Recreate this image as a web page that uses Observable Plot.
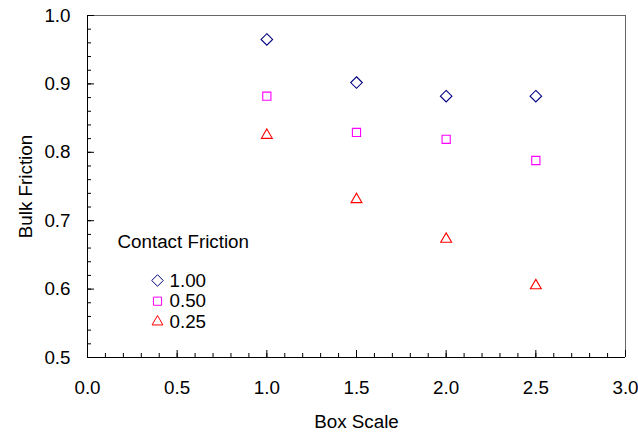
<!DOCTYPE html>
<html><head><meta charset="utf-8">
<script src="https://cdn.jsdelivr.net/npm/d3@7"></script>
<script src="https://cdn.jsdelivr.net/npm/@observablehq/plot@0.6"></script>
<style>body{margin:0;background:#fff}</style>
</head><body><div id="chart"></div>
<script>
// ---- data ----
const boxScale = [1.0, 1.5, 2.0, 2.5];
const bulk100 = [0.965, 0.902, 0.882, 0.882];
const bulk050 = [0.882, 0.829, 0.819, 0.788];
const bulk025 = [0.825, 0.731, 0.673, 0.605];
const seriesNames = ["1.00", "0.50", "0.25"];
const seriesSymbols = ["diamond2", "square2", "triangle2"];
const seriesColors = ["#000080", "#FF00FF", "#FF0000"];
const xTicks = [0.0, 0.5, 1.0, 1.5, 2.0, 2.5, 3.0];
const yTicks = [0.5, 0.6, 0.7, 0.8, 0.9, 1.0];
const xLabel = "Box Scale";
const yLabel = "Bulk Friction";
const legendTitle = "Contact Friction";

const seriesValues = [bulk100, bulk050, bulk025];
const rows = seriesNames.flatMap((s, i) => boxScale.map((x, j) => ({series: s, x, y: seriesValues[i][j]})));
const xMinor = d3.range(0, 3.0001, 0.1).map(v => +v.toFixed(2));
const yMinor = d3.range(0.5, 1.0001, 0.02).map(v => +v.toFixed(2));

const W = 638, H = 432, mL = 87, mR = 13, mT = 15, mB = 75;
const iW = W - mL - mR, iH = H - mT - mB;
const FS = 18.8;
const R = 5.2;

const legendRowDy = [265, 285.7, 306.3];
const legendMarks = seriesNames.flatMap((s, i) => [
  Plot.dot([s], {frameAnchor: "top-left", dx: 70, dy: legendRowDy[i], symbol: seriesSymbols[i], stroke: seriesColors[i], r: R, strokeWidth: 1}),
  Plot.text([s], {frameAnchor: "top-left", dx: 82, dy: legendRowDy[i], textAnchor: "start", lineAnchor: "middle", fontSize: FS, fill: "#000"})
]);

const chart = Plot.plot({
  width: W, height: H,
  marginLeft: mL, marginRight: mR, marginTop: mT, marginBottom: mB,
  style: {fontFamily: "'Liberation Sans', Arial, sans-serif", fontSize: FS + "px", color: "#000", background: "#fff"},
  x: {domain: [0, 3], ticks: xTicks, tickSize: 0, tickPadding: 23, tickFormat: d3.format(".1f"), label: null},
  y: {domain: [0.5, 1.0], ticks: yTicks, tickSize: 0, tickPadding: 17, tickFormat: d3.format(".1f"), label: null},
  symbol: {domain: seriesNames, range: seriesSymbols},
  color: {domain: seriesNames, range: seriesColors},
  marks: [
    Plot.ruleY([1.0], {stroke: "#666"}),
    Plot.ruleX([3.0], {stroke: "#666"}),
    Plot.ruleX(xMinor, {x: d => d, insetTop: iH - 4, stroke: "#000"}),
    Plot.ruleX(xTicks, {x: d => d, insetTop: iH - 7, stroke: "#000"}),
    Plot.ruleY(yMinor, {y: d => d, insetRight: iW - 4, stroke: "#000"}),
    Plot.ruleY(yTicks, {y: d => d, insetRight: iW - 7, stroke: "#000"}),
    Plot.ruleX([0], {stroke: "#000"}),
    Plot.ruleY([0.5], {stroke: "#000"}),
    Plot.dot(rows, {x: "x", y: "y", symbol: "series", stroke: "series", r: R, strokeWidth: 1.1}),
    Plot.text([legendTitle], {frameAnchor: "top-left", dx: 30, dy: 226, textAnchor: "start", lineAnchor: "middle", fontSize: FS, fill: "#000"}),
    ...legendMarks,
    Plot.text([xLabel], {frameAnchor: "bottom", dy: 64, lineAnchor: "middle", textAnchor: "middle", fontSize: FS, fill: "#000"}),
    Plot.text([yLabel], {frameAnchor: "left", dx: -62, rotate: -90, textAnchor: "middle", lineAnchor: "middle", fontSize: FS, fill: "#000"})
  ]
});
document.getElementById("chart").appendChild(chart);
</script>
</body></html>
